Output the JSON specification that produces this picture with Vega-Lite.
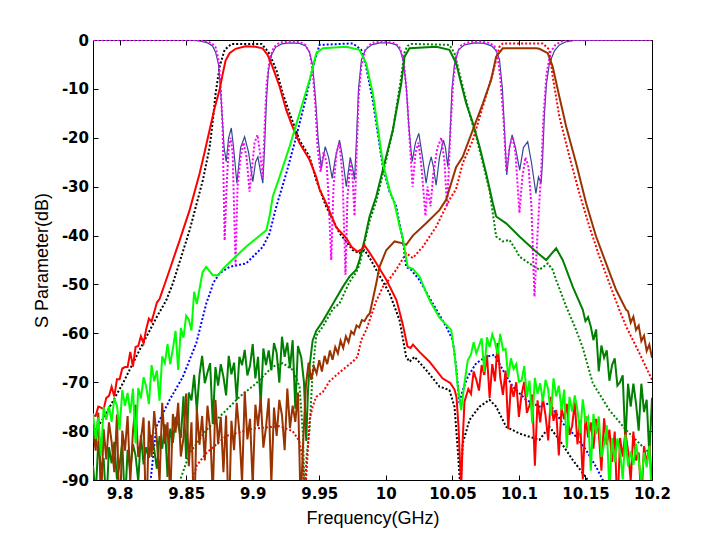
{
"$schema": "https://vega.github.io/schema/vega-lite/v6.json",
"width": 559, "height": 440,
"autosize": {"type": "none"},
"padding": {"left": 93, "top": 40, "right": 68, "bottom": 59},
"background": "white",
"config": {
 "view": {"stroke": "black", "strokeWidth": 1},
 "axis": {"grid": false, "domainColor": "black", "tickColor": "black", "labelColor": "black", "titleColor": "black", "labelFont": "DejaVu Sans", "labelFontWeight": "bold", "labelFontSize": 15, "titleFont": "Liberation Sans", "titleFontSize": 18, "titleFontWeight": "normal", "tickSize": -5, "labelFlush": false, "labelOverlap": false, "domainWidth": 1, "tickWidth": 1}
},
"datasets": {
"s11m": [{"f":9.78,"d":0},{"f":9.8526,"d":0},{"f":9.8601,"d":-0.2},{"f":9.8661,"d":-0.6},{"f":9.8698,"d":-1.2},{"f":9.8721,"d":-2.5},{"f":9.8743,"d":-5},{"f":9.8758,"d":-10},{"f":9.8774,"d":-17},{"f":9.8785,"d":-22},{"f":9.8801,"d":-24.9},{"f":9.8819,"d":-20},{"f":9.8839,"d":-18},{"f":9.8856,"d":-22},{"f":9.8881,"d":-29.3},{"f":9.8909,"d":-22},{"f":9.8939,"d":-19.8},{"f":9.8969,"d":-23},{"f":9.9001,"d":-29},{"f":9.9021,"d":-25},{"f":9.9039,"d":-23.9},{"f":9.9059,"d":-27},{"f":9.9076,"d":-29.3},{"f":9.9089,"d":-22},{"f":9.9104,"d":-12},{"f":9.9119,"d":-6},{"f":9.9142,"d":-3},{"f":9.9172,"d":-1.5},{"f":9.9217,"d":-0.8},{"f":9.9277,"d":-0.6},{"f":9.9352,"d":-0.7},{"f":9.9397,"d":-1.2},{"f":9.9427,"d":-2.5},{"f":9.9449,"d":-5},{"f":9.9472,"d":-12},{"f":9.9491,"d":-20},{"f":9.9515,"d":-26.2},{"f":9.9545,"d":-21.8},{"f":9.957,"d":-24},{"f":9.9597,"d":-28.3},{"f":9.9622,"d":-24},{"f":9.9652,"d":-20.5},{"f":9.9675,"d":-24},{"f":9.9703,"d":-30},{"f":9.9733,"d":-24},{"f":9.975,"d":-26},{"f":9.9765,"d":-28.6},{"f":9.978,"d":-20},{"f":9.9795,"d":-10},{"f":9.9817,"d":-4},{"f":9.9847,"d":-2},{"f":9.9893,"d":-1},{"f":9.9953,"d":-0.6},{"f":10.0028,"d":-0.6},{"f":10.008,"d":-1},{"f":10.011,"d":-2.2},{"f":10.0133,"d":-4.5},{"f":10.0155,"d":-10},{"f":10.0174,"d":-18},{"f":10.0198,"d":-24.9},{"f":10.0223,"d":-21},{"f":10.0248,"d":-19.1},{"f":10.0276,"d":-24},{"f":10.0303,"d":-29.3},{"f":10.0321,"d":-26},{"f":10.0341,"d":-23.9},{"f":10.0358,"d":-26},{"f":10.0378,"d":-29.7},{"f":10.0403,"d":-24},{"f":10.0433,"d":-20.5},{"f":10.0448,"d":-22},{"f":10.0466,"d":-25.9},{"f":10.0482,"d":-20},{"f":10.0497,"d":-10},{"f":10.0516,"d":-5},{"f":10.0546,"d":-2},{"f":10.0591,"d":-1},{"f":10.0666,"d":-0.6},{"f":10.0741,"d":-0.7},{"f":10.0794,"d":-1.2},{"f":10.0831,"d":-2.2},{"f":10.0854,"d":-4},{"f":10.0876,"d":-10},{"f":10.0891,"d":-18},{"f":10.0909,"d":-27.6},{"f":10.0929,"d":-22},{"f":10.0949,"d":-19.4},{"f":10.0974,"d":-22},{"f":10.1006,"d":-26.6},{"f":10.1034,"d":-22},{"f":10.1066,"d":-20.8},{"f":10.1094,"d":-25},{"f":10.1128,"d":-31.4},{"f":10.1147,"d":-28},{"f":10.1167,"d":-29.3},{"f":10.1177,"d":-25},{"f":10.1192,"d":-15},{"f":10.1207,"d":-9},{"f":10.1229,"d":-4.8},{"f":10.1267,"d":-2.2},{"f":10.1304,"d":-1},{"f":10.1349,"d":-0.4},{"f":10.1417,"d":-0.1},{"f":10.2,"d":0}],
"s11s": [{"f":9.78,"d":0},{"f":9.8563,"d":0},{"f":9.8638,"d":-0.2},{"f":9.8691,"d":-0.6},{"f":9.8721,"d":-1.5},{"f":9.8743,"d":-4},{"f":9.8758,"d":-9},{"f":9.8774,"d":-18},{"f":9.8789,"d":-41},{"f":9.8804,"d":-30},{"f":9.8819,"d":-22},{"f":9.8834,"d":-20},{"f":9.8849,"d":-23},{"f":9.8871,"d":-46},{"f":9.8886,"d":-30},{"f":9.8909,"d":-24},{"f":9.8931,"d":-21},{"f":9.8954,"d":-24},{"f":9.8976,"d":-31},{"f":9.8991,"d":-27},{"f":9.9014,"d":-21},{"f":9.9036,"d":-19.4},{"f":9.9059,"d":-24},{"f":9.9074,"d":-28},{"f":9.9089,"d":-18},{"f":9.9104,"d":-9},{"f":9.9127,"d":-4},{"f":9.9157,"d":-1.5},{"f":9.9202,"d":-0.5},{"f":9.9277,"d":-0.3},{"f":9.9352,"d":-0.4},{"f":9.9397,"d":-1},{"f":9.9427,"d":-2.5},{"f":9.9449,"d":-6},{"f":9.9472,"d":-14},{"f":9.9487,"d":-22},{"f":9.951,"d":-27},{"f":9.9532,"d":-23},{"f":9.9555,"d":-25},{"f":9.957,"d":-32},{"f":9.959,"d":-45},{"f":9.9607,"d":-30},{"f":9.963,"d":-23},{"f":9.9652,"d":-21},{"f":9.9675,"d":-28},{"f":9.9697,"d":-48},{"f":9.9712,"d":-32},{"f":9.9735,"d":-25},{"f":9.975,"d":-28},{"f":9.9765,"d":-36},{"f":9.978,"d":-24},{"f":9.9795,"d":-12},{"f":9.9817,"d":-5},{"f":9.9847,"d":-2},{"f":9.9893,"d":-0.6},{"f":9.9968,"d":-0.3},{"f":10.0066,"d":-0.6},{"f":10.0103,"d":-1.5},{"f":10.0133,"d":-4},{"f":10.0155,"d":-10},{"f":10.0178,"d":-20},{"f":10.0201,"d":-30},{"f":10.0223,"d":-23},{"f":10.0246,"d":-21},{"f":10.0268,"d":-26},{"f":10.0298,"d":-36},{"f":10.0313,"d":-30},{"f":10.0336,"d":-34},{"f":10.0358,"d":-27},{"f":10.0388,"d":-22},{"f":10.0418,"d":-20},{"f":10.0441,"d":-25},{"f":10.046,"d":-34},{"f":10.0471,"d":-28},{"f":10.0486,"d":-18},{"f":10.0508,"d":-8},{"f":10.0531,"d":-3},{"f":10.0569,"d":-1},{"f":10.0629,"d":-0.4},{"f":10.0704,"d":-0.3},{"f":10.0779,"d":-0.6},{"f":10.0816,"d":-1.2},{"f":10.0839,"d":-3},{"f":10.0861,"d":-8},{"f":10.0884,"d":-16},{"f":10.0906,"d":-27},{"f":10.0929,"d":-22},{"f":10.0951,"d":-19.8},{"f":10.0974,"d":-23},{"f":10.1004,"d":-35.4},{"f":10.1026,"d":-28},{"f":10.1049,"d":-24},{"f":10.1072,"d":-26},{"f":10.1094,"d":-34},{"f":10.1117,"d":-52.5},{"f":10.1139,"d":-40},{"f":10.1154,"d":-33},{"f":10.1169,"d":-26},{"f":10.1184,"d":-16},{"f":10.1207,"d":-7},{"f":10.1237,"d":-2.5},{"f":10.1274,"d":-1},{"f":10.1319,"d":-0.3},{"f":10.138,"d":0},{"f":10.2,"d":0}],
"k": [{"f":9.78,"d":-80.5},{"f":9.7875,"d":-77.5},{"f":9.8025,"d":-70.2},{"f":9.815,"d":-63.4},{"f":9.8276,"d":-56.8},{"f":9.8351,"d":-53.2},{"f":9.84,"d":-49.8},{"f":9.8526,"d":-38.9},{"f":9.8626,"d":-28.6},{"f":9.8676,"d":-22},{"f":9.8698,"d":-17},{"f":9.8721,"d":-11},{"f":9.8751,"d":-5.5},{"f":9.8789,"d":-2},{"f":9.8841,"d":-0.8},{"f":9.9066,"d":-0.8},{"f":9.9104,"d":-2},{"f":9.9127,"d":-2.9},{"f":9.9177,"d":-6.1},{"f":9.9226,"d":-10.9},{"f":9.9277,"d":-15},{"f":9.9352,"d":-20.5},{"f":9.9427,"d":-23.9},{"f":9.9477,"d":-28.6},{"f":9.9552,"d":-34.1},{"f":9.9652,"d":-39.5},{"f":9.9752,"d":-43},{"f":9.9802,"d":-43.6},{"f":9.984,"d":-43},{"f":9.9878,"d":-44.5},{"f":9.9928,"d":-47},{"f":10.0028,"d":-51.8},{"f":10.0103,"d":-57.3},{"f":10.0153,"d":-64.8},{"f":10.0178,"d":-65.8},{"f":10.0216,"d":-64.8},{"f":10.0303,"d":-67.5},{"f":10.0403,"d":-70.9},{"f":10.0478,"d":-71.6},{"f":10.0516,"d":-75},{"f":10.0541,"d":-83.9},{"f":10.0561,"d":-92},{"f":10.0578,"d":-82.5},{"f":10.0629,"d":-77.7},{"f":10.0704,"d":-75},{"f":10.0779,"d":-73.6},{"f":10.0829,"d":-75},{"f":10.0904,"d":-79.1},{"f":10.1004,"d":-80.5},{"f":10.1154,"d":-81.8},{"f":10.1229,"d":-79.1},{"f":10.1304,"d":-81.8},{"f":10.1404,"d":-85.9},{"f":10.148,"d":-88.6},{"f":10.1517,"d":-90},{"f":10.1568,"d":-93}],
"b": [{"f":9.8225,"d":-92},{"f":9.8276,"d":-79.1},{"f":9.8376,"d":-73.6},{"f":9.8475,"d":-68.9},{"f":9.8576,"d":-62},{"f":9.8601,"d":-59.3},{"f":9.8651,"d":-53.9},{"f":9.8689,"d":-51},{"f":9.8701,"d":-49.8},{"f":9.8751,"d":-47.7},{"f":9.8826,"d":-46.4},{"f":9.8951,"d":-45.7},{"f":9.9076,"d":-42.3},{"f":9.9127,"d":-39.5},{"f":9.9177,"d":-34.1},{"f":9.9252,"d":-27.3},{"f":9.9327,"d":-19.8},{"f":9.9402,"d":-11.6},{"f":9.9452,"d":-5.5},{"f":9.9502,"d":-1},{"f":9.9752,"d":-0.7},{"f":9.9815,"d":-2},{"f":9.9848,"d":-5},{"f":9.9878,"d":-9},{"f":9.9903,"d":-12.5},{"f":9.9928,"d":-17},{"f":9.9953,"d":-21.5},{"f":9.9978,"d":-26},{"f":10.0028,"d":-31},{"f":10.0078,"d":-34},{"f":10.0103,"d":-37.5},{"f":10.0128,"d":-41},{"f":10.0153,"d":-46.4},{"f":10.019,"d":-47},{"f":10.0253,"d":-49.1},{"f":10.0353,"d":-53.9},{"f":10.0453,"d":-58.6},{"f":10.0503,"d":-61.4},{"f":10.0528,"d":-66.8},{"f":10.0553,"d":-74.3},{"f":10.0578,"d":-71.6},{"f":10.0616,"d":-68.9},{"f":10.0679,"d":-66.1},{"f":10.0754,"d":-64.8},{"f":10.0816,"d":-64.4},{"f":10.0879,"d":-67.5},{"f":10.0954,"d":-70.9},{"f":10.1054,"d":-73.6},{"f":10.1154,"d":-75},{"f":10.1229,"d":-74.3},{"f":10.1329,"d":-78.4},{"f":10.1429,"d":-81.1},{"f":10.1505,"d":-83.9},{"f":10.158,"d":-87.3},{"f":10.163,"d":-90},{"f":10.168,"d":-93}],
"dgs": [{"f":9.8429,"d":-92},{"f":9.8526,"d":-84.5},{"f":9.8651,"d":-79.8},{"f":9.8776,"d":-76.4},{"f":9.8901,"d":-73},{"f":9.9027,"d":-70.2},{"f":9.9151,"d":-66.8},{"f":9.9226,"d":-66.1},{"f":9.9302,"d":-67.5},{"f":9.9352,"d":-70.9},{"f":9.9377,"d":-80.5},{"f":9.939,"d":-93},{"f":9.9405,"d":-85},{"f":9.9427,"d":-79.8},{"f":9.945,"d":-68},{"f":9.9477,"d":-60.5},{"f":9.9527,"d":-58.6},{"f":9.9602,"d":-55},{"f":9.9652,"d":-53.9},{"f":9.9727,"d":-49.5},{"f":9.9778,"d":-47.5},{"f":9.9802,"d":-46},{"f":9.984,"d":-41.5},{"f":9.9878,"d":-37},{"f":9.9928,"d":-33},{"f":9.999,"d":-26},{"f":10.0053,"d":-18.5},{"f":10.0116,"d":-7.5},{"f":10.0141,"d":-2.5},{"f":10.0163,"d":-1.2},{"f":10.0193,"d":-0.8},{"f":10.0478,"d":-1},{"f":10.0516,"d":-2.7},{"f":10.0578,"d":-9.5},{"f":10.0629,"d":-15},{"f":10.0679,"d":-19.8},{"f":10.0729,"d":-25.2},{"f":10.0779,"d":-30.7},{"f":10.0829,"d":-40.2},{"f":10.0879,"d":-41.2},{"f":10.0929,"d":-40.9},{"f":10.0979,"d":-43},{"f":10.1004,"d":-44.3},{"f":10.1079,"d":-45.7},{"f":10.1154,"d":-47},{"f":10.1217,"d":-45.7},{"f":10.1254,"d":-47},{"f":10.128,"d":-49.1},{"f":10.1355,"d":-54.5},{"f":10.143,"d":-59.3},{"f":10.148,"d":-63},{"f":10.1555,"d":-70.2},{"f":10.168,"d":-75.7},{"f":10.1806,"d":-79.8},{"f":10.1931,"d":-83.2},{"f":10.2,"d":-85}],
"rs": [{"f":9.8526,"d":-92},{"f":9.858,"d":-87},{"f":9.8651,"d":-84.5},{"f":9.88,"d":-81},{"f":9.9,"d":-79.5},{"f":9.92,"d":-79},{"f":9.93,"d":-80},{"f":9.935,"d":-82},{"f":9.9377,"d":-86},{"f":9.939,"d":-95},{"f":9.9405,"d":-88},{"f":9.9427,"d":-77.7},{"f":9.945,"d":-75},{"f":9.9477,"d":-73},{"f":9.9527,"d":-72},{"f":9.9577,"d":-69.8},{"f":9.9652,"d":-68},{"f":9.9752,"d":-65.8},{"f":9.9787,"d":-64.8},{"f":9.9815,"d":-61.4},{"f":9.9853,"d":-59.3},{"f":9.9928,"d":-53.4},{"f":9.9978,"d":-50.5},{"f":10.0003,"d":-49.8},{"f":10.0078,"d":-47},{"f":10.0153,"d":-43.6},{"f":10.0203,"d":-44.6},{"f":10.0278,"d":-42.3},{"f":10.0378,"d":-38.2},{"f":10.0478,"d":-32.7},{"f":10.0528,"d":-30.5},{"f":10.0578,"d":-25.2},{"f":10.0654,"d":-20.5},{"f":10.0729,"d":-13.6},{"f":10.0804,"d":-6.8},{"f":10.0854,"d":-1.4},{"f":10.0879,"d":-0.7},{"f":10.1179,"d":-0.7},{"f":10.1229,"d":-2},{"f":10.1254,"d":-7.5},{"f":10.1304,"d":-15.7},{"f":10.138,"d":-23.9},{"f":10.1455,"d":-31.4},{"f":10.153,"d":-38.2},{"f":10.1605,"d":-44.3},{"f":10.168,"d":-49.8},{"f":10.1755,"d":-55.2},{"f":10.1806,"d":-58.6},{"f":10.1906,"d":-64.1},{"f":10.2,"d":-69.5}],
"dg": [{"f":9.78,"d":-87},{"f":9.782,"d":-93.2},{"f":9.784,"d":-82},{"f":9.786,"d":-88},{"f":9.788,"d":-85.5},{"f":9.79,"d":-95.7},{"f":9.792,"d":-83.3},{"f":9.794,"d":-86.6},{"f":9.796,"d":-82.2},{"f":9.798,"d":-89.9},{"f":9.8,"d":-86.8},{"f":9.802,"d":-82.3},{"f":9.804,"d":-95.4},{"f":9.806,"d":-83.8},{"f":9.808,"d":-88.2},{"f":9.81,"d":-82.7},{"f":9.812,"d":-85},{"f":9.814,"d":-90.3},{"f":9.816,"d":-80.8},{"f":9.818,"d":-86.8},{"f":9.82,"d":-83.3},{"f":9.822,"d":-85.5},{"f":9.824,"d":-80.8},{"f":9.826,"d":-83.8},{"f":9.828,"d":-87.7},{"f":9.83,"d":-81},{"f":9.832,"d":-83.6},{"f":9.834,"d":-78.6},{"f":9.836,"d":-89.4},{"f":9.838,"d":-79.5},{"f":9.84,"d":-82.4},{"f":9.842,"d":-77.1},{"f":9.844,"d":-78.7},{"f":9.846,"d":-81.4},{"f":9.848,"d":-72.9},{"f":9.85,"d":-85.7},{"f":9.852,"d":-72.1},{"f":9.854,"d":-73.7},{"f":9.856,"d":-68.5},{"f":9.858,"d":-75.7},{"f":9.86,"d":-68.5},{"f":9.862,"d":-64.6},{"f":9.864,"d":-70.2},{"f":9.866,"d":-68},{"f":9.868,"d":-66.1},{"f":9.87,"d":-78.5},{"f":9.872,"d":-66.9},{"f":9.874,"d":-70.7},{"f":9.876,"d":-66.3},{"f":9.878,"d":-68.9},{"f":9.88,"d":-72.7},{"f":9.882,"d":-64.6},{"f":9.884,"d":-68.4},{"f":9.886,"d":-66},{"f":9.888,"d":-73.6},{"f":9.89,"d":-64.8},{"f":9.892,"d":-66.5},{"f":9.894,"d":-63.4},{"f":9.896,"d":-68.6},{"f":9.898,"d":-66.6},{"f":9.9,"d":-62.2},{"f":9.902,"d":-69.2},{"f":9.904,"d":-64.8},{"f":9.906,"d":-74.6},{"f":9.908,"d":-63.1},{"f":9.91,"d":-66.5},{"f":9.912,"d":-63.5},{"f":9.914,"d":-67.6},{"f":9.916,"d":-62},{"f":9.918,"d":-64},{"f":9.92,"d":-70.1},{"f":9.922,"d":-60.7},{"f":9.924,"d":-64.8},{"f":9.926,"d":-61.9},{"f":9.928,"d":-67.1},{"f":9.93,"d":-61.4},{"f":9.932,"d":-75.4},{"f":9.934,"d":-62.6},{"f":9.9365,"d":-65},{"f":9.9385,"d":-70},{"f":9.9402,"d":-82},{"f":9.9415,"d":-72},{"f":9.9427,"d":-66.8},{"f":9.945,"d":-61.5},{"f":9.9477,"d":-59.5},{"f":9.9527,"d":-57.5},{"f":9.9602,"d":-54},{"f":9.9677,"d":-50.5},{"f":9.9727,"d":-48.4},{"f":9.9778,"d":-47},{"f":9.9802,"d":-45},{"f":9.984,"d":-40.9},{"f":9.9878,"d":-36.1},{"f":9.9928,"d":-32},{"f":9.999,"d":-25.2},{"f":10.0053,"d":-18.4},{"f":10.0116,"d":-8.9},{"f":10.0141,"d":-3.4},{"f":10.0178,"d":-1.7},{"f":10.0379,"d":-1.4},{"f":10.0478,"d":-2},{"f":10.0529,"d":-4.8},{"f":10.0566,"d":-8.9},{"f":10.0604,"d":-13},{"f":10.0654,"d":-17},{"f":10.0704,"d":-21.8},{"f":10.0754,"d":-27.3},{"f":10.0804,"d":-33.4},{"f":10.0829,"d":-36.1},{"f":10.0904,"d":-37.5},{"f":10.1004,"d":-40.2},{"f":10.1129,"d":-43.3},{"f":10.1205,"d":-45},{"f":10.128,"d":-42.6},{"f":10.1329,"d":-45},{"f":10.1405,"d":-50.5},{"f":10.148,"d":-55.2},{"f":10.15,"d":-57.5},{"f":10.152,"d":-56.7},{"f":10.154,"d":-58.6},{"f":10.156,"d":-61.4},{"f":10.158,"d":-59.2},{"f":10.16,"d":-67.8},{"f":10.162,"d":-62.5},{"f":10.164,"d":-65},{"f":10.166,"d":-63.5},{"f":10.168,"d":-69.7},{"f":10.17,"d":-66.5},{"f":10.172,"d":-65.1},{"f":10.174,"d":-70.7},{"f":10.176,"d":-70},{"f":10.178,"d":-68.6},{"f":10.18,"d":-82.4},{"f":10.182,"d":-70.3},{"f":10.184,"d":-75},{"f":10.186,"d":-70.3},{"f":10.188,"d":-74.3},{"f":10.19,"d":-79.9},{"f":10.192,"d":-70.3},{"f":10.194,"d":-76.1},{"f":10.196,"d":-73.6},{"f":10.198,"d":-85},{"f":10.2,"d":-73.2}],
"br": [{"f":9.78,"d":-79.3},{"f":9.782,"d":-84},{"f":9.784,"d":-76.2},{"f":9.786,"d":-94.9},{"f":9.788,"d":-79.6},{"f":9.79,"d":-85.8},{"f":9.792,"d":-78.2},{"f":9.794,"d":-82.2},{"f":9.796,"d":-88.4},{"f":9.798,"d":-76.6},{"f":9.8,"d":-100},{"f":9.802,"d":-79.9},{"f":9.804,"d":-84},{"f":9.806,"d":-76.9},{"f":9.808,"d":-90.4},{"f":9.81,"d":-80.1},{"f":9.812,"d":-74.6},{"f":9.814,"d":-85.3},{"f":9.816,"d":-81.8},{"f":9.818,"d":-77.2},{"f":9.82,"d":-100},{"f":9.822,"d":-77.9},{"f":9.824,"d":-85.3},{"f":9.826,"d":-75.9},{"f":9.828,"d":-81.9},{"f":9.83,"d":-90.5},{"f":9.832,"d":-74.2},{"f":9.834,"d":-82.6},{"f":9.836,"d":-78.2},{"f":9.838,"d":-94.4},{"f":9.84,"d":-76.5},{"f":9.842,"d":-80.3},{"f":9.844,"d":-74.2},{"f":9.846,"d":-85.2},{"f":9.848,"d":-81.3},{"f":9.85,"d":-72.3},{"f":9.852,"d":-87.2},{"f":9.854,"d":-78.2},{"f":9.856,"d":-99.1},{"f":9.858,"d":-75.4},{"f":9.86,"d":-82.8},{"f":9.862,"d":-76.9},{"f":9.864,"d":-86},{"f":9.866,"d":-74.8},{"f":9.868,"d":-79.7},{"f":9.87,"d":-93},{"f":9.872,"d":-73.6},{"f":9.874,"d":-82.7},{"f":9.876,"d":-77.1},{"f":9.878,"d":-88.4},{"f":9.88,"d":-76.8},{"f":9.882,"d":-100},{"f":9.884,"d":-77.9},{"f":9.886,"d":-83.9},{"f":9.888,"d":-74.2},{"f":9.89,"d":-80.3},{"f":9.892,"d":-90.6},{"f":9.894,"d":-71.9},{"f":9.896,"d":-81.7},{"f":9.898,"d":-77.5},{"f":9.9,"d":-91.1},{"f":9.902,"d":-74.6},{"f":9.904,"d":-79},{"f":9.906,"d":-73.1},{"f":9.908,"d":-83.4},{"f":9.91,"d":-79.2},{"f":9.912,"d":-73.3},{"f":9.914,"d":-90.7},{"f":9.916,"d":-75.2},{"f":9.918,"d":-81},{"f":9.92,"d":-73.6},{"f":9.922,"d":-76.8},{"f":9.924,"d":-83.9},{"f":9.926,"d":-71.3},{"f":9.928,"d":-79.4},{"f":9.93,"d":-74.8},{"f":9.932,"d":-78.1},{"f":9.934,"d":-72.1},{"f":9.936,"d":-95},{"f":9.938,"d":-81.7},{"f":9.94,"d":-70.5},{"f":9.942,"d":-66},{"f":9.944,"d":-69.5},{"f":9.946,"d":-66.8},{"f":9.948,"d":-68.2},{"f":9.95,"d":-65.5},{"f":9.952,"d":-67.8},{"f":9.954,"d":-64.6},{"f":9.956,"d":-66.3},{"f":9.958,"d":-63.5},{"f":9.96,"d":-65.4},{"f":9.962,"d":-62.8},{"f":9.964,"d":-64.1},{"f":9.966,"d":-61.5},{"f":9.968,"d":-63},{"f":9.97,"d":-60.6},{"f":9.972,"d":-61.8},{"f":9.974,"d":-59.6},{"f":9.976,"d":-60.2},{"f":9.978,"d":-58.4},{"f":9.98,"d":-58.8},{"f":9.982,"d":-57.3},{"f":9.984,"d":-57.5},{"f":9.986,"d":-56.5},{"f":9.988,"d":-55.9},{"f":9.9928,"d":-49.8},{"f":9.9953,"d":-46.4},{"f":10.0003,"d":-43},{"f":10.0066,"d":-41.2},{"f":10.0128,"d":-41.6},{"f":10.0153,"d":-41.9},{"f":10.0203,"d":-40},{"f":10.0303,"d":-37.5},{"f":10.0403,"d":-34.8},{"f":10.0453,"d":-32.7},{"f":10.0528,"d":-26},{"f":10.0578,"d":-23.9},{"f":10.0654,"d":-18.4},{"f":10.0729,"d":-13},{"f":10.0791,"d":-8.2},{"f":10.0829,"d":-3.4},{"f":10.0879,"d":-1.7},{"f":10.1129,"d":-1.7},{"f":10.1154,"d":-1.8},{"f":10.1217,"d":-2.7},{"f":10.1254,"d":-5.5},{"f":10.1304,"d":-11.6},{"f":10.1355,"d":-17.7},{"f":10.143,"d":-25.2},{"f":10.1505,"d":-33.4},{"f":10.158,"d":-40.2},{"f":10.1655,"d":-45.7},{"f":10.173,"d":-51.1},{"f":10.1806,"d":-55.2},{"f":10.182,"d":-55.5},{"f":10.184,"d":-57.8},{"f":10.186,"d":-56.6},{"f":10.188,"d":-59.3},{"f":10.19,"d":-58.4},{"f":10.192,"d":-61.6},{"f":10.194,"d":-60.5},{"f":10.196,"d":-63.6},{"f":10.198,"d":-62.3},{"f":10.2,"d":-65}],
"r": [{"f":9.78,"d":-76.8},{"f":9.782,"d":-76.9},{"f":9.784,"d":-75},{"f":9.786,"d":-75.2},{"f":9.788,"d":-75.5},{"f":9.79,"d":-73.2},{"f":9.792,"d":-72.8},{"f":9.794,"d":-70.9},{"f":9.796,"d":-72.9},{"f":9.798,"d":-69.4},{"f":9.8,"d":-69.4},{"f":9.802,"d":-67.2},{"f":9.804,"d":-66.9},{"f":9.806,"d":-66.9},{"f":9.808,"d":-63.8},{"f":9.81,"d":-66.8},{"f":9.812,"d":-62.8},{"f":9.814,"d":-62.6},{"f":9.816,"d":-60.6},{"f":9.818,"d":-62},{"f":9.82,"d":-59.1},{"f":9.822,"d":-57},{"f":9.824,"d":-57.6},{"f":9.826,"d":-55.7},{"f":9.828,"d":-53.7},{"f":9.83,"d":-53},{"f":9.8376,"d":-47},{"f":9.8413,"d":-44},{"f":9.8451,"d":-41},{"f":9.8526,"d":-34.8},{"f":9.8601,"d":-27.3},{"f":9.8638,"d":-23},{"f":9.8676,"d":-18.4},{"f":9.8713,"d":-14},{"f":9.8751,"d":-10.2},{"f":9.8774,"d":-7},{"f":9.8796,"d":-4.2},{"f":9.8826,"d":-2.7},{"f":9.8871,"d":-1.8},{"f":9.8946,"d":-1.3},{"f":9.9021,"d":-1.4},{"f":9.9074,"d":-1.7},{"f":9.9111,"d":-3},{"f":9.9149,"d":-5.5},{"f":9.9202,"d":-9.5},{"f":9.9252,"d":-14.3},{"f":9.9299,"d":-17.7},{"f":9.9352,"d":-21.1},{"f":9.9427,"d":-24.5},{"f":9.9477,"d":-28},{"f":9.9502,"d":-30.5},{"f":9.9552,"d":-33.4},{"f":9.9627,"d":-38.3},{"f":9.9703,"d":-40.5},{"f":9.9742,"d":-42.3},{"f":9.9787,"d":-43.3},{"f":9.9817,"d":-42.8},{"f":9.984,"d":-42},{"f":9.9878,"d":-43.5},{"f":9.993,"d":-45.7},{"f":10.0005,"d":-49.1},{"f":10.008,"d":-53.2},{"f":10.0125,"d":-57.9},{"f":10.0163,"d":-62.7},{"f":10.0186,"d":-63},{"f":10.0204,"d":-62.3},{"f":10.0253,"d":-63.8},{"f":10.0328,"d":-65.8},{"f":10.0426,"d":-69.2},{"f":10.0486,"d":-70.2},{"f":10.0516,"d":-71.5},{"f":10.0531,"d":-73},{"f":10.0546,"d":-79},{"f":10.0557,"d":-86},{"f":10.0566,"d":-92},{"f":10.0576,"d":-83},{"f":10.0591,"d":-74},{"f":10.062,"d":-71.4},{"f":10.064,"d":-72.4},{"f":10.066,"d":-67.8},{"f":10.068,"d":-69.5},{"f":10.07,"d":-71.7},{"f":10.072,"d":-66.5},{"f":10.074,"d":-68.5},{"f":10.076,"d":-64.4},{"f":10.078,"d":-73.2},{"f":10.08,"d":-66.3},{"f":10.082,"d":-69.8},{"f":10.084,"d":-62},{"f":10.086,"d":-69},{"f":10.088,"d":-72.6},{"f":10.09,"d":-67.6},{"f":10.092,"d":-79.6},{"f":10.094,"d":-70.5},{"f":10.096,"d":-73},{"f":10.098,"d":-70},{"f":10.1,"d":-77.1},{"f":10.102,"d":-72.5},{"f":10.104,"d":-69.9},{"f":10.106,"d":-76.3},{"f":10.108,"d":-74.7},{"f":10.11,"d":-72.5},{"f":10.112,"d":-87.1},{"f":10.114,"d":-73.7},{"f":10.116,"d":-78.2},{"f":10.118,"d":-73.2},{"f":10.12,"d":-76.8},{"f":10.122,"d":-81.9},{"f":10.124,"d":-73},{"f":10.126,"d":-77.9},{"f":10.128,"d":-75.7},{"f":10.13,"d":-85},{"f":10.132,"d":-75.3},{"f":10.134,"d":-77.6},{"f":10.136,"d":-74.4},{"f":10.138,"d":-80.8},{"f":10.14,"d":-78.9},{"f":10.142,"d":-74.1},{"f":10.144,"d":-82.7},{"f":10.146,"d":-77.8},{"f":10.148,"d":-89.9},{"f":10.15,"d":-76.9},{"f":10.152,"d":-81.3},{"f":10.154,"d":-78.2},{"f":10.156,"d":-83.6},{"f":10.158,"d":-77.5},{"f":10.16,"d":-80.4},{"f":10.162,"d":-88.1},{"f":10.164,"d":-77.4},{"f":10.166,"d":-82.8},{"f":10.168,"d":-79.7},{"f":10.17,"d":-86.3},{"f":10.172,"d":-80.1},{"f":10.174,"d":-96.6},{"f":10.176,"d":-81.4},{"f":10.178,"d":-85.2},{"f":10.18,"d":-80.2},{"f":10.182,"d":-84},{"f":10.184,"d":-90.2},{"f":10.186,"d":-80.1},{"f":10.188,"d":-86},{"f":10.19,"d":-84.4},{"f":10.192,"d":-94.3},{"f":10.194,"d":-83.1},{"f":10.196,"d":-86.7},{"f":10.198,"d":-82.9},{"f":10.2,"d":-90.5}],
"g": [{"f":9.78,"d":-76.4},{"f":9.782,"d":-81.6},{"f":9.784,"d":-77.2},{"f":9.786,"d":-85},{"f":9.788,"d":-75.1},{"f":9.79,"d":-77.7},{"f":9.792,"d":-74.9},{"f":9.794,"d":-78.1},{"f":9.796,"d":-73.3},{"f":9.798,"d":-74.8},{"f":9.8,"d":-79.8},{"f":9.802,"d":-71.6},{"f":9.804,"d":-74.8},{"f":9.806,"d":-72.2},{"f":9.808,"d":-76.3},{"f":9.81,"d":-71.3},{"f":9.812,"d":-82.5},{"f":9.814,"d":-71.2},{"f":9.816,"d":-73.3},{"f":9.818,"d":-69},{"f":9.82,"d":-70.9},{"f":9.822,"d":-74.5},{"f":9.824,"d":-66.5},{"f":9.826,"d":-69.8},{"f":9.828,"d":-67.6},{"f":9.83,"d":-73.8},{"f":9.832,"d":-64.7},{"f":9.834,"d":-66.1},{"f":9.836,"d":-62.2},{"f":9.838,"d":-66.3},{"f":9.84,"d":-63.2},{"f":9.842,"d":-59.5},{"f":9.844,"d":-67.5},{"f":9.846,"d":-58.9},{"f":9.848,"d":-60.9},{"f":9.85,"d":-56.4},{"f":9.852,"d":-57.2},{"f":9.854,"d":-59.4},{"f":9.856,"d":-51.5},{"f":9.858,"d":-54},{"f":9.8623,"d":-47.5},{"f":9.865,"d":-46.4},{"f":9.87,"d":-48.1},{"f":9.874,"d":-48.1},{"f":9.878,"d":-46.7},{"f":9.8826,"d":-45.5},{"f":9.895,"d":-42.3},{"f":9.9026,"d":-40.6},{"f":9.9102,"d":-38.9},{"f":9.9127,"d":-36},{"f":9.9151,"d":-32},{"f":9.9202,"d":-28},{"f":9.9277,"d":-21.8},{"f":9.9352,"d":-15},{"f":9.9427,"d":-8.2},{"f":9.9478,"d":-2.7},{"f":9.9527,"d":-1.7},{"f":9.9703,"d":-1.4},{"f":9.9802,"d":-2},{"f":9.9853,"d":-4.8},{"f":9.9878,"d":-8},{"f":9.9903,"d":-11},{"f":9.9928,"d":-15.7},{"f":9.9953,"d":-20.5},{"f":9.9978,"d":-25.2},{"f":10.0028,"d":-30.7},{"f":10.0066,"d":-33.5},{"f":10.0103,"d":-38},{"f":10.0128,"d":-40.5},{"f":10.0148,"d":-44},{"f":10.0165,"d":-46.4},{"f":10.0203,"d":-46.8},{"f":10.0253,"d":-48.4},{"f":10.0328,"d":-53.2},{"f":10.0403,"d":-56.8},{"f":10.0491,"d":-59.3},{"f":10.0516,"d":-64.1},{"f":10.0541,"d":-70.9},{"f":10.0566,"d":-75.7},{"f":10.0591,"d":-70.2},{"f":10.0616,"d":-65.5},{"f":10.064,"d":-64.3},{"f":10.066,"d":-61.8},{"f":10.068,"d":-64.1},{"f":10.07,"d":-62.6},{"f":10.072,"d":-61},{"f":10.074,"d":-67.9},{"f":10.076,"d":-60.8},{"f":10.078,"d":-62.8},{"f":10.08,"d":-60.2},{"f":10.082,"d":-61.8},{"f":10.084,"d":-64.3},{"f":10.086,"d":-60.1},{"f":10.088,"d":-63.4},{"f":10.09,"d":-63.2},{"f":10.092,"d":-69},{"f":10.094,"d":-65.1},{"f":10.096,"d":-67.3},{"f":10.098,"d":-66.3},{"f":10.1,"d":-69.9},{"f":10.102,"d":-69.7},{"f":10.104,"d":-66.7},{"f":10.106,"d":-73},{"f":10.108,"d":-69.7},{"f":10.11,"d":-78.4},{"f":10.112,"d":-69.1},{"f":10.114,"d":-72.4},{"f":10.116,"d":-70.2},{"f":10.118,"d":-73.9},{"f":10.12,"d":-69.5},{"f":10.122,"d":-71.5},{"f":10.124,"d":-76.9},{"f":10.126,"d":-69.2},{"f":10.128,"d":-72.9},{"f":10.13,"d":-70.7},{"f":10.132,"d":-75.7},{"f":10.134,"d":-71.5},{"f":10.136,"d":-83.5},{"f":10.138,"d":-73},{"f":10.14,"d":-76},{"f":10.142,"d":-72.7},{"f":10.144,"d":-75.7},{"f":10.146,"d":-80.4},{"f":10.148,"d":-73.5},{"f":10.15,"d":-78},{"f":10.152,"d":-77.1},{"f":10.154,"d":-88.1},{"f":10.156,"d":-76.5},{"f":10.158,"d":-80.6},{"f":10.16,"d":-77},{"f":10.162,"d":-85.3},{"f":10.164,"d":-82.7},{"f":10.166,"d":-78.8},{"f":10.168,"d":-92.5},{"f":10.17,"d":-81.4},{"f":10.172,"d":-86.4},{"f":10.174,"d":-81.5},{"f":10.176,"d":-84.2},{"f":10.178,"d":-89.9},{"f":10.18,"d":-80.7},{"f":10.182,"d":-87.2},{"f":10.184,"d":-84.1},{"f":10.186,"d":-86.9},{"f":10.188,"d":-82.6},{"f":10.19,"d":-86.1},{"f":10.192,"d":-90.4},{"f":10.194,"d":-84.4},{"f":10.196,"d":-87.4},{"f":10.198,"d":-83},{"f":10.2,"d":-94.4}]
},
"encoding": {
 "x": {"field": "f", "type": "quantitative", "scale": {"domain": [9.78, 10.2], "nice": false, "zero": false}, "axis": null},
 "y": {"field": "d", "type": "quantitative", "scale": {"domain": [-90, 0], "nice": false, "zero": false}, "axis": null}
},
"layer": [
 {"data": {"name": "k"}, "mark": {"type": "line", "color": "black", "strokeWidth": 2, "strokeDash": [2, 2], "clip": true},
  "encoding": {
   "x": {"field": "f", "type": "quantitative", "scale": {"domain": [9.78, 10.2], "nice": false, "zero": false},
     "axis": {"orient": "bottom", "values": [9.8, 9.85, 9.9, 9.95, 10, 10.05, 10.1, 10.15, 10.2], "labelExpr": "datum.value + ''", "labelPadding": 11, "title": "Frequency(GHz)", "titlePadding": 8}},
   "y": {"field": "d", "type": "quantitative", "scale": {"domain": [-90, 0], "nice": false, "zero": false},
     "axis": {"orient": "left", "values": [0, -10, -20, -30, -40, -50, -60, -70, -80, -90], "labelExpr": "datum.value + ''", "labelPadding": 9.5, "title": "S Parameter(dB)", "titlePadding": 10}}
  }},
 {"data": {"name": "b"}, "mark": {"type": "line", "color": "#0000ff", "strokeWidth": 2, "strokeDash": [2, 2], "clip": true}},
 {"data": {"name": "dgs"}, "mark": {"type": "line", "color": "#008000", "strokeWidth": 2, "strokeDash": [2, 2], "clip": true}},
 {"data": {"name": "rs"}, "mark": {"type": "line", "color": "#ff0000", "strokeWidth": 2, "strokeDash": [2, 2], "clip": true}},
 {"data": {"name": "s11m"}, "mark": {"type": "line", "color": "#34488f", "strokeWidth": 1.2, "clip": true}},
 {"data": {"name": "s11s"}, "mark": {"type": "line", "color": "#ff00ff", "strokeWidth": 2, "strokeDash": [2, 2], "clip": true},
  "encoding": {
   "x": {"field": "f", "type": "quantitative", "scale": {"domain": [9.78, 10.2], "nice": false, "zero": false},
     "axis": {"orient": "top", "values": [9.8, 9.85, 9.9, 9.95, 10, 10.05, 10.1, 10.15, 10.2], "labels": false, "title": null}},
   "y": {"field": "d", "type": "quantitative", "scale": {"domain": [-90, 0], "nice": false, "zero": false},
     "axis": {"orient": "right", "values": [0, -10, -20, -30, -40, -50, -60, -70, -80, -90], "labels": false, "title": null}}
  }},
 {"data": {"name": "dg"}, "mark": {"type": "line", "color": "#008000", "strokeWidth": 2, "clip": true}},
 {"data": {"name": "br"}, "mark": {"type": "line", "color": "#993300", "strokeWidth": 2, "clip": true}},
 {"data": {"name": "r"}, "mark": {"type": "line", "color": "#ff0000", "strokeWidth": 2, "clip": true}},
 {"data": {"name": "g"}, "mark": {"type": "line", "color": "#00ff00", "strokeWidth": 2, "clip": true}}
],
"resolve": {"axis": {"x": "independent", "y": "independent"}}
}
